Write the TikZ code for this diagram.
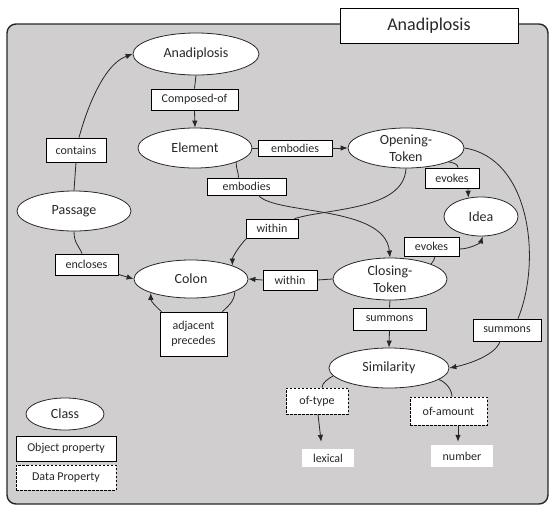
\documentclass[tikz,border=0pt]{standalone}
\usepackage{fontspec}
\setmainfont{Carlito}
\usetikzlibrary{arrows.meta,shapes.geometric}

\definecolor{panelgray}{RGB}{208,206,207}
\definecolor{inkgray}{RGB}{40,40,40}

\tikzset{
  cls/.style={ellipse, draw=inkgray, fill=white, line width=0.8pt, inner sep=0pt,
    font=\fontsize{14}{17}\selectfont, text=inkgray, align=center},
  prop/.style={rectangle, draw=black, fill=white, line width=0.8pt, inner sep=0pt,
    font=\fontsize{12}{15}\selectfont, text=inkgray, align=center},
  dprop/.style={prop, dashed, dash pattern=on 2.5pt off 1.5pt},
  lit/.style={rectangle, fill=white, inner sep=0pt, font=\fontsize{12}{15}\selectfont, text=inkgray},
  link/.style={draw=inkgray, line width=0.8pt},
  arr/.style={link, -{Latex[length=7pt,width=5.5pt]}},
}

\begin{document}
\begin{tikzpicture}[x=1pt,y=-1pt]
\useasboundingbox (0,0) rectangle (550,507);

% panel and title
\draw[fill=panelgray, draw=inkgray, line width=1.4pt, rounded corners=9pt] (7,24) rectangle (548,504);
\node[prop, minimum width=178pt, minimum height=35pt, font=\fontsize{18}{21}\selectfont] (title) at (429,25.5) {Anadiplosis};

% classes
\node[cls, minimum width=126pt, minimum height=42pt] (ana) at (196,54) {Anadiplosis};
\node[cls, minimum width=114pt, minimum height=40pt] (elem) at (195,148) {Element};
\node[cls, minimum width=116pt, minimum height=40pt] (open) at (406,148) {Opening-\\Token};
\node[cls, minimum width=114pt, minimum height=40pt] (passage) at (74,211) {Passage};
\node[cls, minimum width=74pt, minimum height=39pt] (idea) at (481,216.5) {Idea};
\node[cls, minimum width=114pt, minimum height=38pt] (colon) at (191,279) {Colon};
\node[cls, minimum width=114pt, minimum height=42pt] (closing) at (390,279) {Closing-\\Token};
\node[cls, minimum width=120pt, minimum height=40pt] (sim) at (389,368) {Similarity};

% properties
\node[prop, minimum width=87pt, minimum height=21pt] (composed) at (194.5,99.5) {Composed-of};
\node[prop, minimum width=60pt, minimum height=24pt] (contains) at (76,150) {contains};
\node[prop, minimum width=74pt, minimum height=16pt] (embA) at (295,148) {embodies};
\node[prop, minimum width=79pt, minimum height=17pt] (embB) at (246.5,186.5) {embodies};
\node[prop, minimum width=54pt, minimum height=20pt] (evokesA) at (452,178) {evokes};
\node[prop, minimum width=52pt, minimum height=19pt] (withinA) at (272,228.5) {within};
\node[prop, minimum width=55pt, minimum height=19pt] (evokesB) at (431.5,246.5) {evokes};
\node[prop, minimum width=63pt, minimum height=21pt] (encloses) at (86.5,264.5) {encloses};
\node[prop, minimum width=54pt, minimum height=20pt] (withinB) at (290,280) {within};
\node[prop, minimum width=73pt, minimum height=22pt] (summonsA) at (389.5,319) {summons};
\node[prop, minimum width=68pt, minimum height=22pt] (summonsB) at (507,330) {summons};
\node[prop, minimum width=67pt, minimum height=44pt] (adjacent) at (193.5,334) {adjacent\\precedes};
\node[dprop, minimum width=62pt, minimum height=26pt] (oftype) at (317,401) {of-type};
\node[dprop, minimum width=77pt, minimum height=28pt] (ofamount) at (448.5,411) {of-amount};

% literal values
\node[lit, minimum width=52pt, minimum height=18pt] (lexical) at (328,458) {lexical};
\node[lit, minimum width=62pt, minimum height=22pt] (number) at (462,456) {number};

% key
\node[cls, minimum width=78pt, minimum height=32pt] (keyclass) at (65,414) {Class};
\node[prop, minimum width=100pt, minimum height=25pt] (keyobj) at (66,448.5) {Object property};
\node[dprop, minimum width=100pt, minimum height=25pt] (keydata) at (66,477.5) {Data Property};

% Passage contains Anadiplosis
\draw[link] (passage.north) -- (contains.south);
\draw[arr] ([xshift=3pt]contains.north) .. controls (85,115) and (102,65) .. (ana.west);

% Anadiplosis composed of Element
\draw[link] (ana.south) -- (composed.north);
\draw[arr] (composed.south) -- (elem.north);

% Element embodies Opening-Token
\draw[link] (elem.east) -- (embA.west);
\draw[arr] (embA.east) -- (open.west);

% Element embodies Closing-Token
\draw[link] (elem.-19) .. controls +(0,8) and +(0,-6) .. ([xshift=-8pt]embB.north);
\draw[arr] ([xshift=12pt]embB.south) .. controls (275,215) and (385,205) .. (closing.north);

% Opening-Token within Colon
\draw[link] (open.south) .. controls (404,210) and (330,208) .. ([xshift=-4pt]withinA.north east);
\draw[arr] ([xshift=1pt]withinA.south west) .. controls +(-8,8) and +(0,-8) .. (colon.18);

% evokes Idea
\draw[link] (open.-18) .. controls +(6,1) and +(0,-3) .. ([xshift=6pt]evokesA.north);
\draw[arr] ([xshift=16pt]evokesA.south) -- (idea.124);
\draw[link] (closing.20) .. controls +(2,-3) and +(0,3) .. ([xshift=3.5pt]evokesB.south);
\draw[arr] ([yshift=-2.5pt]evokesB.east) .. controls +(11,0) and +(-2,6) .. (idea.-85);

% Closing-Token within Colon
\draw[link] (closing.west) -- (withinB.east);
\draw[arr] (withinB.west) -- (colon.east);

% summons Similarity
\draw[link] (closing.south) -- (summonsA.north);
\draw[arr] (summonsA.south) -- (sim.north);
\draw[link] (open.east) .. controls (530,158) and (542,260) .. ([xshift=11pt]summonsB.north);
\draw[arr] ([xshift=-7pt]summonsB.south) .. controls +(-5,15) and +(15,-3) .. (sim.east);

% Passage encloses Colon
\draw[link] (passage.south) .. controls +(0,12) and +(-3,-8) .. ([xshift=-4.5pt]encloses.north);
\draw[arr] ([yshift=1pt]encloses.south east) -- (colon.west);

% Colon adjacent/precedes Colon
\draw[link] (colon.-16) .. controls +(0,10) and +(5,-5) .. ([xshift=-5pt]adjacent.north east);
\draw[arr] ([xshift=2pt]adjacent.north west) .. controls +(-6,-5) and +(0,8) .. (colon.199);

% data properties of Similarity
\draw[link] (sim.188) .. controls +(-5,3) and +(0,-5) .. ([xshift=5pt]oftype.north);
\draw[arr, shorten >=7pt] ([xshift=1pt]oftype.south) -- ([xshift=-6pt]lexical.north);
\draw[link] (sim.-13) .. controls +(8,3) and +(0,-6) .. ([xshift=3.5pt]ofamount.north);
\draw[arr, shorten >=3pt] ([xshift=9.5pt]ofamount.south) -- ([xshift=-4pt]number.north);
\end{tikzpicture}
\end{document}
